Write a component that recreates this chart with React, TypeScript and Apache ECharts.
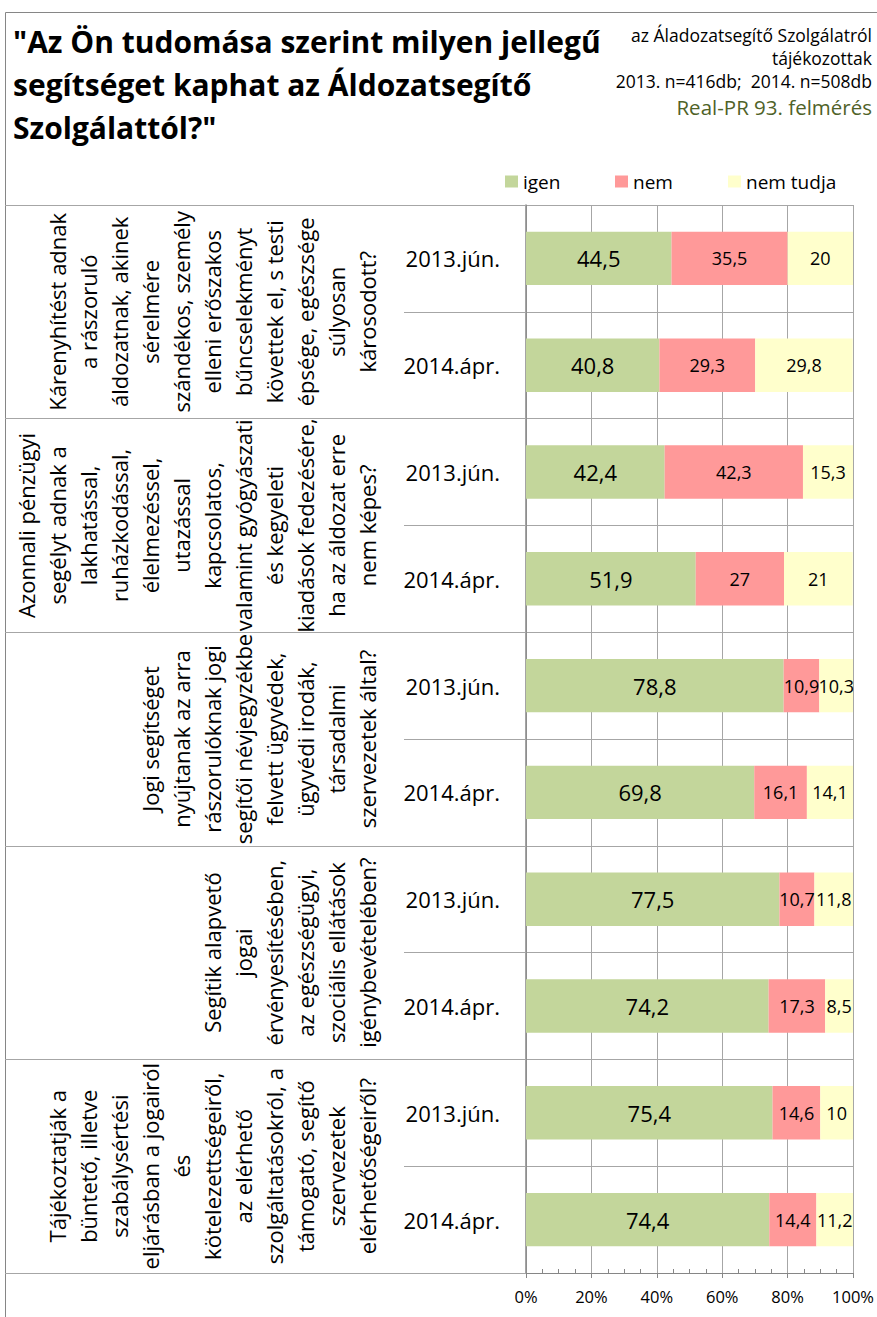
import React, { useEffect, useRef } from 'react';
import * as echarts from 'echarts';

const FONT = '"Open Sans", "Noto Sans", sans-serif';

const TITLE_LINES = [
  '"Az Ön tudomása szerint milyen jellegű',
  'segítséget kaphat az Áldozatsegítő',
  'Szolgálattól?"',
];
const NOTE_LINES = [
  'az Áladozatsegítő Szolgálatról',
  'tájékozottak',
  '2013. n=416db;  2014. n=508db',
];
const SOURCE = 'Real-PR 93. felmérés';

const SERIES_NAMES = ['igen', 'nem', 'nem tudja'];
const PERIODS = ['2013.jún.', '2014.ápr.'];
const QUESTIONS = [
  'Kárenyhítést adnak\na rászoruló\náldozatnak, akinek\nsérelmére\nszándékos, személy\nelleni erőszakos\nbűncselekményt\nkövettek el, s testi\népsége, egészsége\nsúlyosan\nkárosodott?',
  'Azonnali pénzügyi\nsegélyt adnak a\nlakhatással,\nruházkodással,\nélelmezéssel,\nutazással\nkapcsolatos,\nvalamint gyógyászati\nés kegyeleti\nkiadások fedezésére,\nha az áldozat erre\nnem képes?',
  'Jogi segítséget\nnyújtanak az arra\nrászorulóknak jogi\nsegítői névjegyzékbe\nfelvett ügyvédek,\nügyvédi irodák,\ntársadalmi\nszervezetek által?',
  'Segítik alapvető\njogai\nérvényesítésében,\naz egészségügyi,\nszociális ellátások\nigénybevételében?',
  'Tájékoztatják a\nbüntető, illetve\nszabálysértési\neljárásban a jogairól\nés\nkötelezettségeiről,\naz elérhető\nszolgáltatásokról, a\ntámogató, segítő\nszervezetek\nelérhetőségeiről?',
];

// one value per row: question 1 (2013, 2014), question 2 (2013, 2014), ...
const IGEN = [44.5, 40.8, 42.4, 51.9, 78.8, 69.8, 77.5, 74.2, 75.4, 74.4];
const NEM = [35.5, 29.3, 42.3, 27, 10.9, 16.1, 10.7, 17.3, 14.6, 14.4];
const NEM_TUDJA = [20, 29.8, 15.3, 21, 10.3, 14.1, 11.8, 8.5, 10, 11.2];

const VALUES = [IGEN, NEM, NEM_TUDJA];
const COLORS = ['#C3D69B', '#FF9999', '#FFFFCC'];
const LEGEND_LEFT = [505, 615, 728];

const ROWS = QUESTIONS.flatMap((_, qi) => PERIODS.map((p) => `${qi}|${p}`));

const fmt = (v: number) => String(v).replace('.', ',');

export default function App() {
  const ref = useRef<HTMLDivElement>(null);

  useEffect(() => {
    document.body.style.margin = '0';
    if (!ref.current) return;
    const chart = echarts.init(ref.current, null, { renderer: 'svg' });
    const gridColor = '#A6A6A6';
    const axisColor = '#868686';

    const option: any = {
      animation: false,
      backgroundColor: '#ffffff',
      textStyle: { fontFamily: FONT },
      grid: {
        left: 526,
        right: 24,
        top: 205,
        bottom: 44,
        containLabel: false,
        outerBoundsMode: 'none',
      },
      legend: SERIES_NAMES.map((n, i) => ({
        data: [n],
        left: LEGEND_LEFT[i],
        top: 172,
        padding: 0,
        itemWidth: 13,
        itemHeight: 12,
        itemGap: 0,
        icon: 'rect',
        selectedMode: false,
        textStyle: { fontSize: 19, color: '#000', fontFamily: FONT, padding: [0, 0, 0, 0] },
      })),
      xAxis: [
        {
          type: 'value',
          min: 0,
          max: 100,
          interval: 20,
          position: 'bottom',
          axisLine: { show: true, onZero: false, lineStyle: { color: axisColor, width: 1 } },
          axisTick: { show: true, length: 5, inside: false, lineStyle: { color: axisColor } },
          axisLabel: { formatter: '{value}%', fontSize: 16.5, color: '#000', margin: 15, fontFamily: FONT },
          splitLine: { show: true, lineStyle: { color: gridColor, width: 1 } },
        },
        {
          type: 'value',
          min: 0,
          max: 100,
          interval: 20,
          position: 'bottom',
          gridIndex: 0,
          axisLine: { show: false, onZero: false },
          axisLabel: { show: false },
          splitLine: { show: false },
          axisTick: { show: false, inside: true },
          minorTick: { show: true, splitNumber: 4, length: 4, lineStyle: { color: axisColor } },
        },
      ],
      yAxis: [
        {
          type: 'category',
          data: ROWS,
          inverse: true,
          position: 'left',
          axisLine: { show: true, lineStyle: { color: axisColor, width: 1.5 } },
          axisTick: { show: true, length: 122, interval: 0, lineStyle: { color: gridColor } },
          axisLabel: {
            interval: 0,
            formatter: (_v: string, i: number) => PERIODS[i % PERIODS.length],
            fontSize: 22,
            color: '#000',
            margin: 26,
            fontFamily: FONT,
          },
          splitLine: { show: true, interval: 0, lineStyle: { color: gridColor } },
        },
        {
          type: 'category',
          data: QUESTIONS,
          inverse: true,
          position: 'left',
          axisLine: { show: false },
          axisTick: { show: true, length: 521, interval: 0, lineStyle: { color: gridColor } },
          axisLabel: {
            interval: 0,
            rotate: 90,
            margin: 144,
            fontSize: 22,
            lineHeight: 31,
            color: '#000',
            fontFamily: FONT,
          },
          splitLine: { show: false },
        },
      ],
      series: SERIES_NAMES.map((name, si) => ({
        name,
        type: 'bar',
        stack: 'total',
        xAxisIndex: 0,
        yAxisIndex: 0,
        barWidth: '50%',
        itemStyle: { color: COLORS[si] },
        label: {
          show: true,
          position: 'inside',
          color: '#000',
          fontSize: si === 0 ? 22 : 18,
          fontFamily: FONT,
          formatter: (p: any) => fmt(VALUES[si][p.dataIndex]),
        },
        data: VALUES[si],
      })),
      graphic: [
        {
          type: 'line',
          shape: { x1: 5.5, y1: 12.5, x2: 877, y2: 12.5 },
          style: { stroke: axisColor, lineWidth: 1 },
          silent: true,
        },
        {
          type: 'line',
          shape: { x1: 5.5, y1: 12.5, x2: 5.5, y2: 1317 },
          style: { stroke: axisColor, lineWidth: 1 },
          silent: true,
        },
        {
          type: 'text',
          x: 13,
          y: 84,
          style: {
            text: TITLE_LINES.join('\n'),
            font: `bold 30px ${FONT}`,
            lineHeight: 43,
            verticalAlign: 'middle',
            fill: '#000',
          },
        },
        {
          type: 'text',
          x: 872,
          y: 58,
          style: {
            text: NOTE_LINES.join('\n'),
            fontSize: 17.5,
            fontFamily: FONT,
            lineHeight: 23,
            align: 'right',
            verticalAlign: 'middle',
            fill: '#000',
          },
        },
        {
          type: 'text',
          x: 872,
          y: 107,
          style: {
            text: SOURCE,
            fontSize: 20.5,
            fontFamily: FONT,
            align: 'right',
            verticalAlign: 'middle',
            fill: '#4F6228',
          },
        },
      ],
    };

    chart.setOption(option);
    return () => chart.dispose();
  }, []);

  return <div ref={ref} style={{ width: 877, height: 1317 }} />;
}
